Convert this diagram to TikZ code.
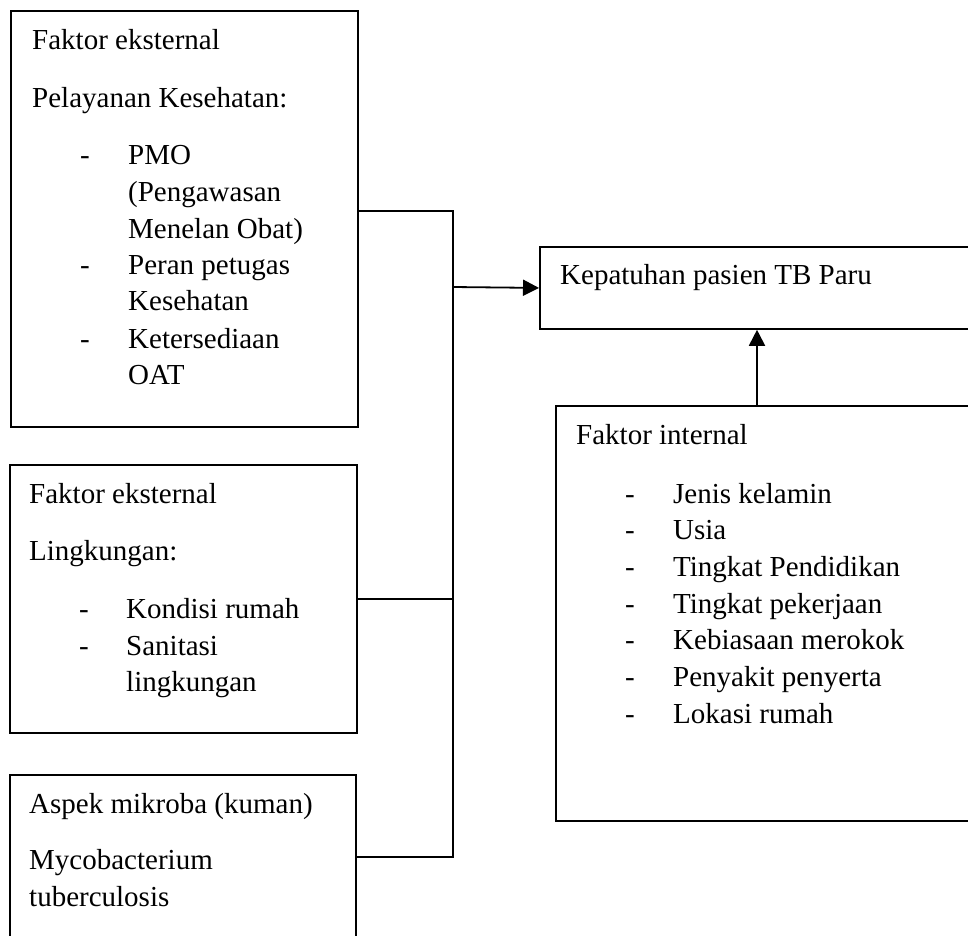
\documentclass[tikz,border=0pt]{standalone}
\usepackage{fontspec}
\setmainfont{Liberation Serif}
\usetikzlibrary{arrows.meta}
\begin{document}
\begin{tikzpicture}[x=1pt,y=-1pt,
  box/.style={draw, line width=1.8pt, rectangle, anchor=north west, inner sep=0pt},
  txt/.style={anchor=base west, inner sep=0pt, font=\fontsize{29}{36}\selectfont},
  link/.style={line width=1.8pt},
  arr/.style={line width=1.8pt, -{Triangle[length=16pt,width=16pt]}}]
\useasboundingbox (0,0) rectangle (968,935);
\clip (0,0) rectangle (968,935);
% boxes
\node[box, minimum width=347pt, minimum height=416pt] (b1) at (10,10) {};
\node[box, minimum width=347pt, minimum height=268pt] (b2) at (9,464) {};
\node[box, minimum width=346pt, minimum height=220pt] (b3) at (9,774) {};
\node[box, minimum width=460pt, minimum height=82pt] (kep) at (539,246) {};
\node[box, minimum width=450pt, minimum height=415pt] (int) at (555,405) {};
% box 1 text
\node[txt] (t11) at (32,49) {Faktor eksternal};
\node[txt] (t12) at (32,107) {Pelayanan Kesehatan:};
\node[txt] (d11) at (80,164) {-};
\node[txt] (t13) at (128,164) {PMO};
\node[txt] (t14) at (128,201) {(Pengawasan};
\node[txt] (t15) at (128,238) {Menelan Obat)};
\node[txt] (d12) at (80,274) {-};
\node[txt] (t16) at (128,274) {Peran petugas};
\node[txt] (t17) at (128,310) {Kesehatan};
\node[txt] (d13) at (80,348) {-};
\node[txt] (t18) at (128,348) {Ketersediaan};
\node[txt] (t19) at (128,384) {OAT};
% box 2 text
\node[txt] (t21) at (29,503) {Faktor eksternal};
\node[txt] (t22) at (29,560) {Lingkungan:};
\node[txt] (d21) at (79,618) {-};
\node[txt] (t23) at (126,618) {Kondisi rumah};
\node[txt] (d22) at (79,655) {-};
\node[txt] (t24) at (126,655) {Sanitasi};
\node[txt] (t25) at (126,691) {lingkungan};
% box 3 text
\node[txt] (t31) at (29,813) {Aspek mikroba (kuman)};
\node[txt] (t32) at (29,869) {Mycobacterium};
\node[txt] (t33) at (29,906) {tuberculosis};
% kepatuhan
\node[txt] (tk) at (560,284) {Kepatuhan pasien TB Paru};
% internal
\node[txt] (ti0) at (576,444) {Faktor internal};
\foreach \y/\s [count=\i] in {503/Jenis kelamin,539/Usia,576/Tingkat Pendidikan,613/Tingkat pekerjaan,649/Kebiasaan merokok,686/Penyakit penyerta,723/Lokasi rumah}{
  \node[txt] (di\i) at (625,\y) {-};
  \node[txt] (ti\i) at (673,\y) {\s};
}
% connectors
\coordinate (j1) at (453,211);
\coordinate (j2) at (453,857);
\coordinate (ja) at (453,287);
\coordinate (ax) at (757,0);
\draw[link] (b1.east |- j1) -- (j1) -- (j2) -- (b3.east |- j2);
\draw[link] (b2.east) -- (b2.east -| j1);
\draw[arr] (ja) -- (kep.west);
\draw[arr] (int.north -| ax) -- (kep.south -| ax);
\end{tikzpicture}
\end{document}
